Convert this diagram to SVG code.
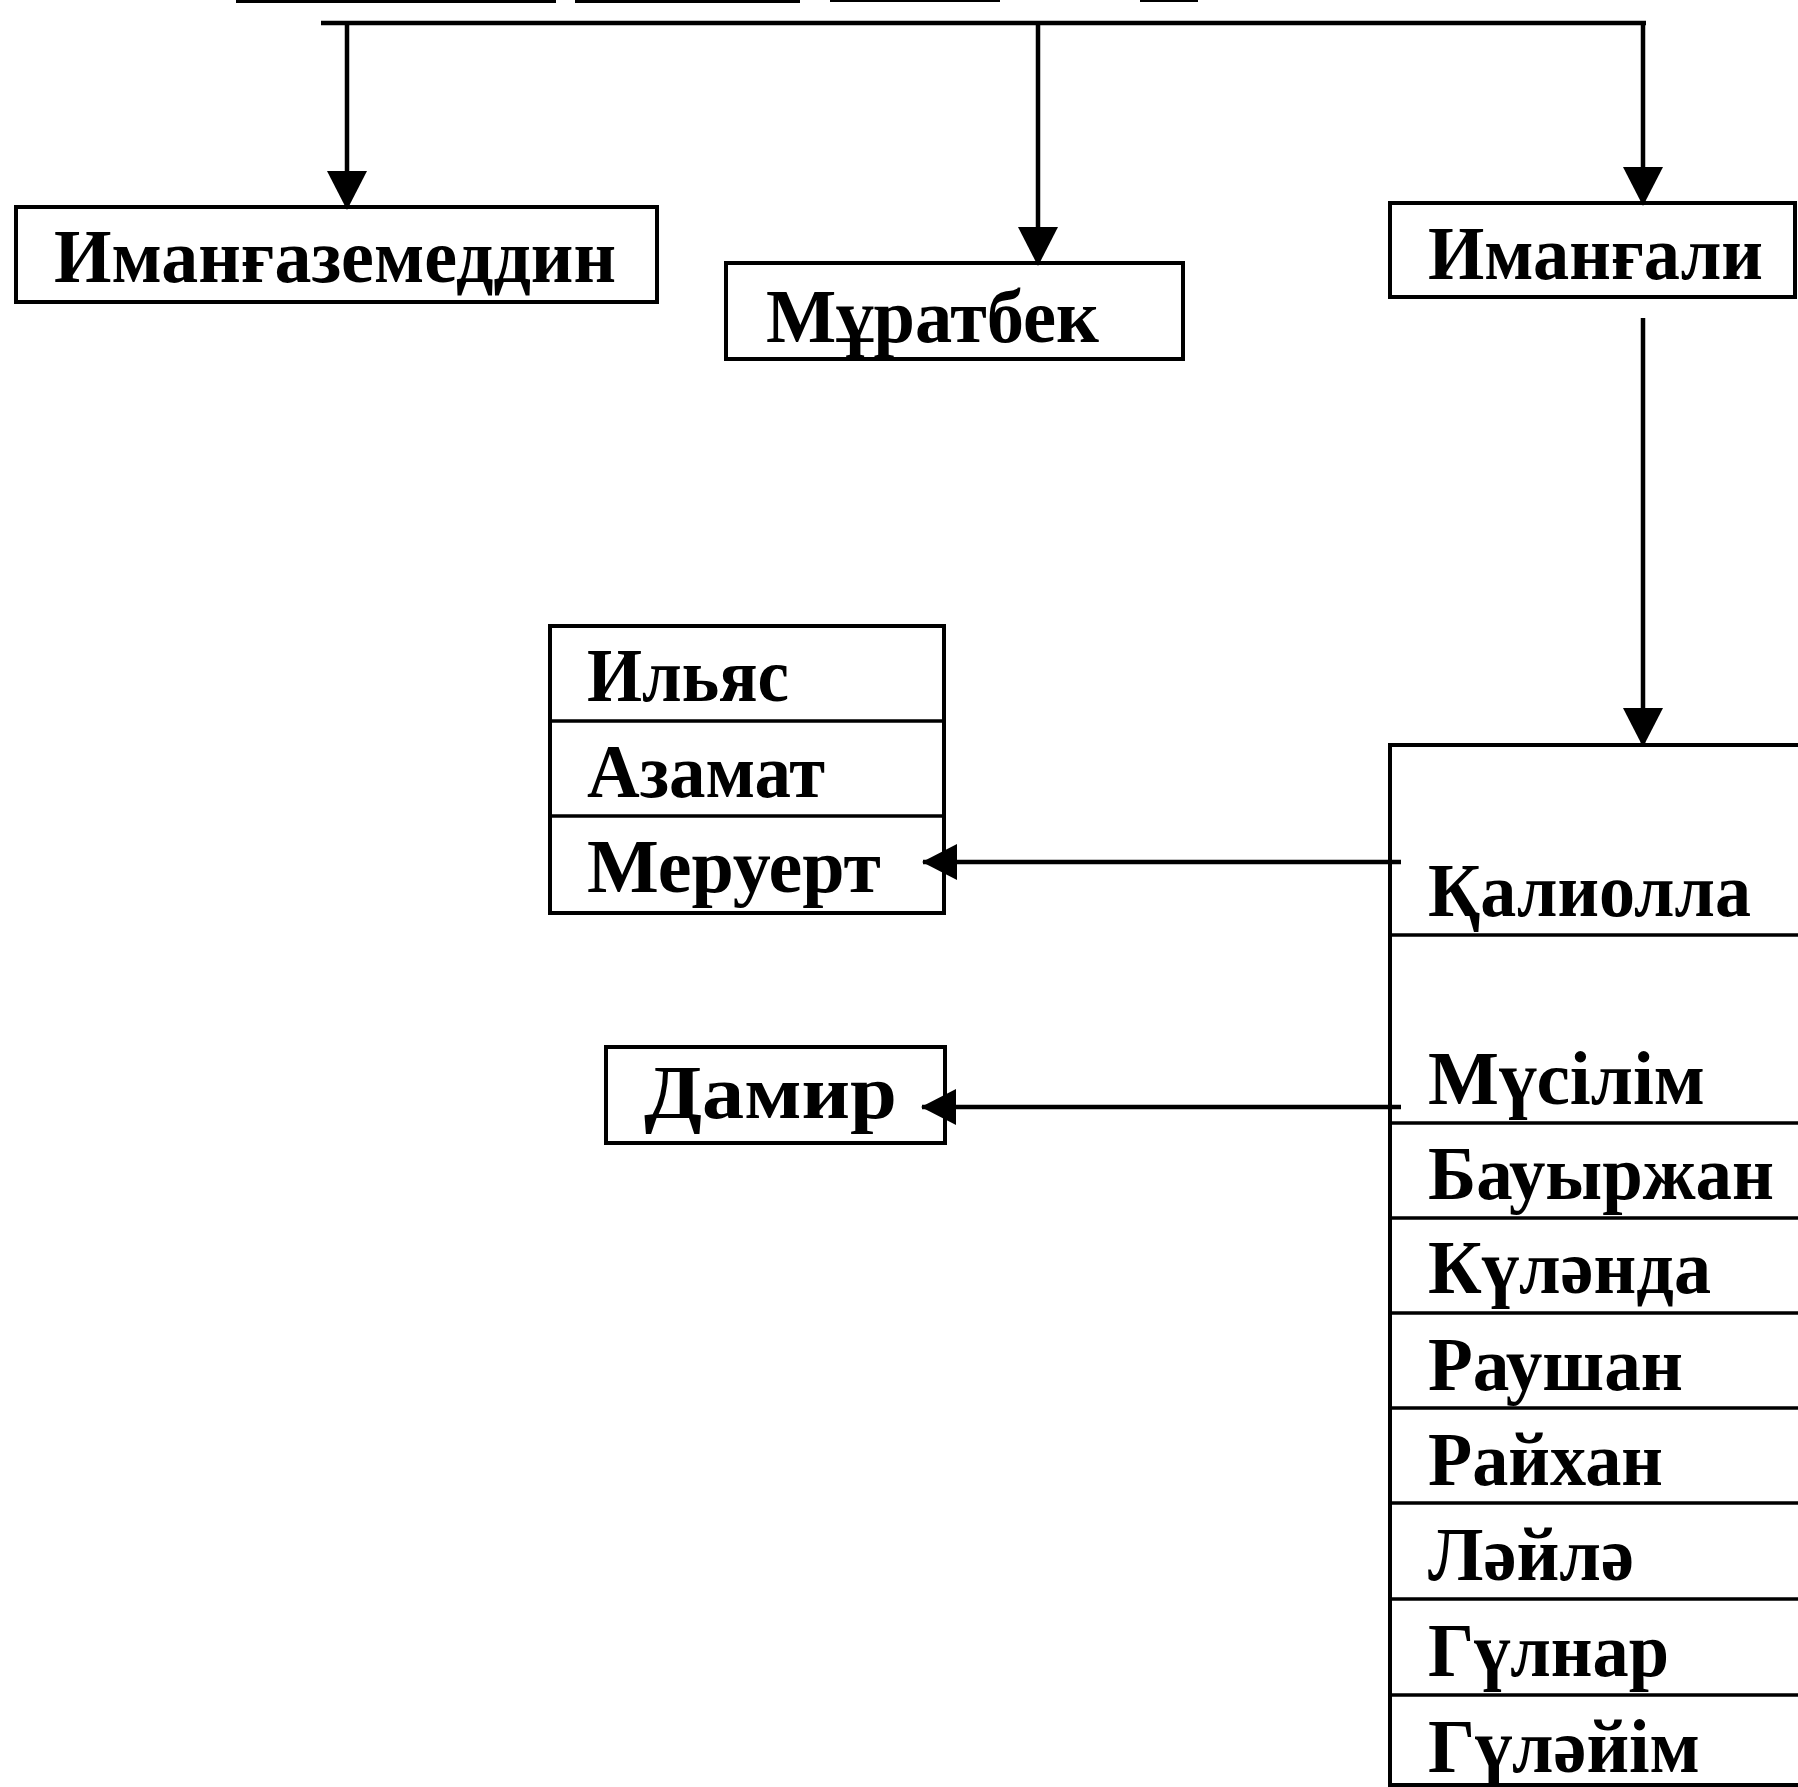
<svg xmlns="http://www.w3.org/2000/svg" width="1798" height="1787" viewBox="0 0 1798 1787">
<style>
  .box { fill: #ffffff; stroke: #000; stroke-width: 4; }
  .div { stroke: #000; stroke-width: 3.5; fill: none; }
  .lbl { font-family: "Liberation Serif", "Times New Roman", serif; font-weight: bold; font-size: 76px; fill: #000; }
  .conn { stroke: #000; stroke-width: 4.5; fill: none; }
  .frag { fill: #000; }
</style>
<defs>
  <marker id="ah" markerUnits="userSpaceOnUse" markerWidth="40" markerHeight="40" viewBox="0 0 38 38" refX="36" refY="19" orient="auto">
    <path d="M0,0 L37,19 L0,38 Z" fill="#000"/>
  </marker>
  <marker id="ahs" markerUnits="userSpaceOnUse" markerWidth="36" markerHeight="36" viewBox="0 0 36 36" refX="34" refY="18" orient="auto">
    <path d="M0,0 L35,18 L0,36 Z" fill="#000"/>
  </marker>
</defs>
<rect x="0" y="0" width="1798" height="1787" fill="#ffffff"/>

<g id="title-fragments">
  <rect class="frag" x="236" y="0" width="320" height="3"/>
  <rect class="frag" x="575" y="0" width="225" height="3"/>
  <rect class="frag" x="830" y="0" width="170" height="2"/>
  <rect class="frag" x="1140" y="0" width="58" height="2"/>
</g>

<g id="node-imangazemeddin">
  <rect class="box" x="16" y="207" width="641" height="95"/>
  <text class="lbl" x="54" y="282" textLength="562" lengthAdjust="spacingAndGlyphs">Иманғаземеддин</text>
</g>

<g id="node-muratbek">
  <rect class="box" x="726" y="263" width="457" height="96"/>
  <text class="lbl" x="766" y="342" textLength="333" lengthAdjust="spacingAndGlyphs">Мұратбек</text>
</g>

<g id="node-imangali">
  <rect class="box" x="1390" y="203" width="405" height="94"/>
  <text class="lbl" x="1428" y="279" textLength="335" lengthAdjust="spacingAndGlyphs">Иманғали</text>
</g>

<g id="node-children-left">
  <rect class="box" x="550" y="626" width="394" height="287"/>
  <line class="div" x1="550" y1="721" x2="944" y2="721"/>
  <line class="div" x1="550" y1="816" x2="944" y2="816"/>
  <text class="lbl" x="587" y="701" textLength="202" lengthAdjust="spacingAndGlyphs">Ильяс</text>
  <text class="lbl" x="587" y="797" textLength="238" lengthAdjust="spacingAndGlyphs">Азамат</text>
  <text class="lbl" x="587" y="892" textLength="294" lengthAdjust="spacingAndGlyphs">Меруерт</text>
</g>

<g id="node-damir">
  <rect class="box" x="606" y="1047" width="339" height="96"/>
  <text class="lbl" x="644" y="1118" textLength="253" lengthAdjust="spacingAndGlyphs">Дамир</text>
</g>

<g id="node-children-imangali">
  <rect class="box" x="1390" y="745" width="430" height="1040"/>
  <line class="div" x1="1390" y1="935" x2="1800" y2="935"/>
  <line class="div" x1="1390" y1="1123" x2="1800" y2="1123"/>
  <line class="div" x1="1390" y1="1218" x2="1800" y2="1218"/>
  <line class="div" x1="1390" y1="1313" x2="1800" y2="1313"/>
  <line class="div" x1="1390" y1="1408" x2="1800" y2="1408"/>
  <line class="div" x1="1390" y1="1503" x2="1800" y2="1503"/>
  <line class="div" x1="1390" y1="1599" x2="1800" y2="1599"/>
  <line class="div" x1="1390" y1="1695" x2="1800" y2="1695"/>
  <text class="lbl" x="1428" y="916" textLength="323" lengthAdjust="spacingAndGlyphs">Қалиолла</text>
  <text class="lbl" x="1428" y="1104" textLength="277" lengthAdjust="spacingAndGlyphs">Мүсілім</text>
  <text class="lbl" x="1428" y="1199" textLength="346" lengthAdjust="spacingAndGlyphs">Бауыржан</text>
  <text class="lbl" x="1428" y="1293" textLength="283" lengthAdjust="spacingAndGlyphs">Күләнда</text>
  <text class="lbl" x="1428" y="1390" textLength="255" lengthAdjust="spacingAndGlyphs">Раушан</text>
  <text class="lbl" x="1428" y="1485" textLength="235" lengthAdjust="spacingAndGlyphs">Райхан</text>
  <text class="lbl" x="1428" y="1580" textLength="206" lengthAdjust="spacingAndGlyphs">Ләйлә</text>
  <text class="lbl" x="1428" y="1676" textLength="241" lengthAdjust="spacingAndGlyphs">Гүлнар</text>
  <text class="lbl" x="1428" y="1772" textLength="272" lengthAdjust="spacingAndGlyphs">Гүләйім</text>
</g>

<g id="connectors">
  <line class="conn" x1="321" y1="23" x2="1646" y2="23"/>
  <line class="conn" x1="347" y1="21" x2="347" y2="209" marker-end="url(#ah)"/>
  <line class="conn" x1="1038" y1="21" x2="1038" y2="265" marker-end="url(#ah)"/>
  <line class="conn" x1="1643" y1="21" x2="1643" y2="205" marker-end="url(#ah)"/>
  <line class="conn" x1="1643" y1="318" x2="1643" y2="746" marker-end="url(#ah)"/>
  <line class="conn" x1="1401" y1="862" x2="923" y2="862" marker-end="url(#ahs)"/>
  <line class="conn" x1="1401" y1="1107" x2="922" y2="1107" marker-end="url(#ahs)"/>
</g>
</svg>
